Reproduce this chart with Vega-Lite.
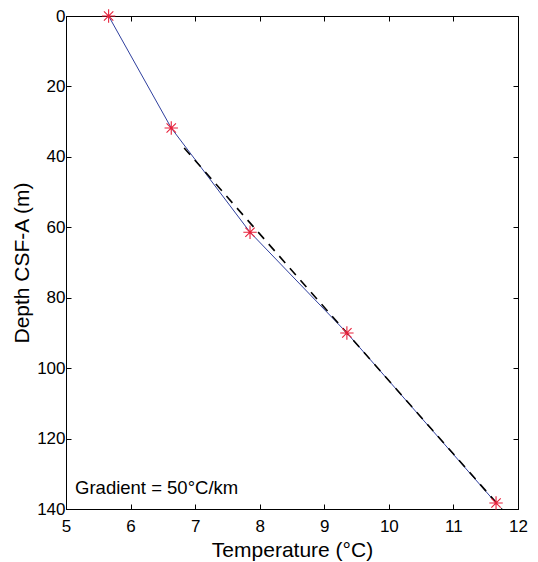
{
  "$schema": "https://vega.github.io/schema/vega-lite/v6.json",
  "width": 452,
  "height": 493,
  "autosize": "none",
  "padding": {"left": 66, "top": 16, "right": 20, "bottom": 53},
  "background": "white",
  "config": {
    "view": {"stroke": "#000", "strokeWidth": 1},
    "font": "Liberation Sans",
    "axis": {
      "grid": false,
      "domainColor": "#000",
      "tickColor": "#000",
      "tickSize": -5,
      "labelColor": "#000",
      "titleColor": "#000",
      "labelFont": "Liberation Sans",
      "titleFont": "Liberation Sans",
      "labelFontSize": 17,
      "titleFontSize": 21,
      "titleFontWeight": "normal"
    }
  },
  "datasets": {
    "obs": [
      {"T": 5.66, "depth": 0},
      {"T": 6.63, "depth": 31.8},
      {"T": 7.85, "depth": 61.4},
      {"T": 9.35, "depth": 90},
      {"T": 11.66, "depth": 138.3}
    ],
    "fit": [
      {"T": 6.83, "depth": 37.5},
      {"T": 11.75, "depth": 140}
    ],
    "note": [
      {"label": "Gradient = 50°C/km"}
    ]
  },
  "resolve": {"axis": {"x": "independent", "y": "independent"}},
  "layer": [
    {
      "data": {"name": "obs"},
      "mark": {"type": "line", "color": "#2f3f9e", "strokeWidth": 1},
      "encoding": {
        "x": {"field": "T", "type": "quantitative",
              "scale": {"domain": [5, 12], "nice": false, "zero": false},
              "axis": {"orient": "bottom", "title": "Temperature (°C)", "values": [5,6,7,8,9,10,11,12], "labelPadding": 14, "titlePadding": 5, "labelFlush": false}},
        "y": {"field": "depth", "type": "quantitative",
              "scale": {"domain": [0, 140], "reverse": true, "nice": false, "zero": false},
              "axis": {"orient": "left", "title": "Depth CSF-A (m)", "values": [0,20,40,60,80,100,120,140], "labelPadding": 6, "titlePadding": 4, "labelFlush": false}}
      }
    },
    {
      "data": {"name": "fit"},
      "mark": {"type": "line", "color": "#000", "strokeWidth": 1.6, "strokeDash": [9, 7]},
      "encoding": {
        "x": {"field": "T", "type": "quantitative",
              "axis": {"orient": "top", "labels": false, "title": null, "values": [5,6,7,8,9,10,11,12], "domain": false}},
        "y": {"field": "depth", "type": "quantitative",
              "axis": {"orient": "right", "labels": false, "title": null, "values": [0,20,40,60,80,100,120,140], "domain": false}}
      }
    },
    {
      "data": {"name": "obs"},
      "mark": {"type": "point", "shape": "M-1,0L1,0M0,-1L0,1M-0.7,-0.7L0.7,0.7M-0.7,0.7L0.7,-0.7", "filled": false, "color": "#e8203a", "strokeWidth": 1.1, "size": 180, "opacity": 1},
      "encoding": {
        "x": {"field": "T", "type": "quantitative", "axis": null},
        "y": {"field": "depth", "type": "quantitative", "axis": null}
      }
    },
    {
      "data": {"name": "note"},
      "mark": {"type": "text", "align": "left", "baseline": "middle", "fontSize": 18.5, "color": "#000", "font": "Liberation Sans"},
      "encoding": {
        "text": {"field": "label"},
        "x": {"datum": 5.14, "type": "quantitative", "axis": null},
        "y": {"datum": 134, "type": "quantitative", "axis": null}
      }
    }
  ]
}
